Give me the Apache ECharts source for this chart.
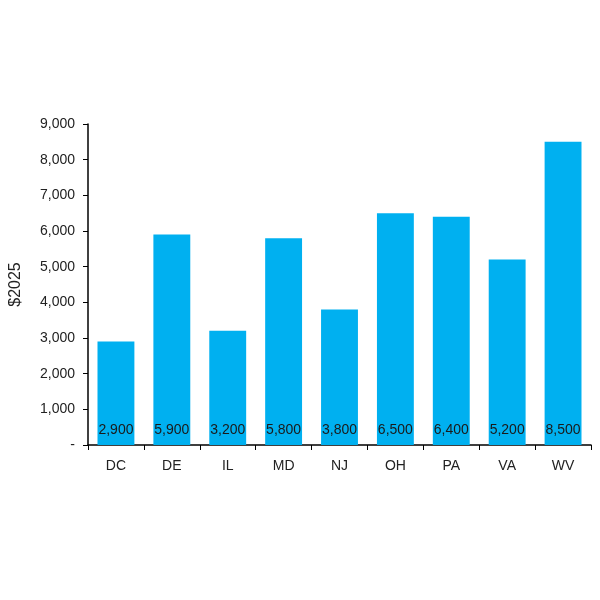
<!DOCTYPE html>
<html><head><meta charset="utf-8">
<script src="https://cdn.jsdelivr.net/npm/echarts@6/dist/echarts.min.js"></script>
<style>html,body{margin:0;padding:0;background:#fff}#c{width:600px;height:600px}</style>
</head><body><div id="c"></div>
<script>
const categories = ['DC','DE','IL','MD','NJ','OH','PA','VA','WV'];
const values = [2900,5900,3200,5800,3800,6500,6400,5200,8500];
const yTicks = {min:0, max:9000, interval:1000};
const yName = '$2025';
const FONT = 'Liberation Sans, Arial, sans-serif';
const fmt = v => v === 0 ? '-' : v.toLocaleString('en-US');
const chart = echarts.init(document.getElementById('c'));
chart.setOption({
  animation:false,
  textStyle:{fontFamily:FONT},
  grid:{left:87, right:9, top:124, bottom:155},
  xAxis:{type:'category', data:categories,
    axisLine:{lineStyle:{color:'#000', width:1.5}},
    axisTick:{show:true, length:5, lineStyle:{color:'#000'}},
    axisLabel:{color:'#222', fontSize:14, margin:14, fontFamily:FONT}},
  yAxis:{type:'value', min:yTicks.min, max:yTicks.max, interval:yTicks.interval,
    name:yName, nameLocation:'middle', nameGap:64, nameRotate:90,
    nameTextStyle:{color:'#222', fontSize:16, fontFamily:FONT},
    axisLine:{show:true, lineStyle:{color:'#000', width:1.5}},
    axisTick:{show:true, length:5, lineStyle:{color:'#000'}},
    splitLine:{show:false},
    axisLabel:{color:'#222', fontSize:14, margin:13, formatter:fmt, fontFamily:FONT}},
  series:[{type:'bar', data:values, barCategoryGap:'34%',
    itemStyle:{color:'#00B0F0'},
    label:{show:true, position:'insideBottom', distance:8, color:'#1a1a1a', fontSize:14,
      fontFamily:FONT, formatter:p=>fmt(p.value)}}]
});
</script></body></html>
